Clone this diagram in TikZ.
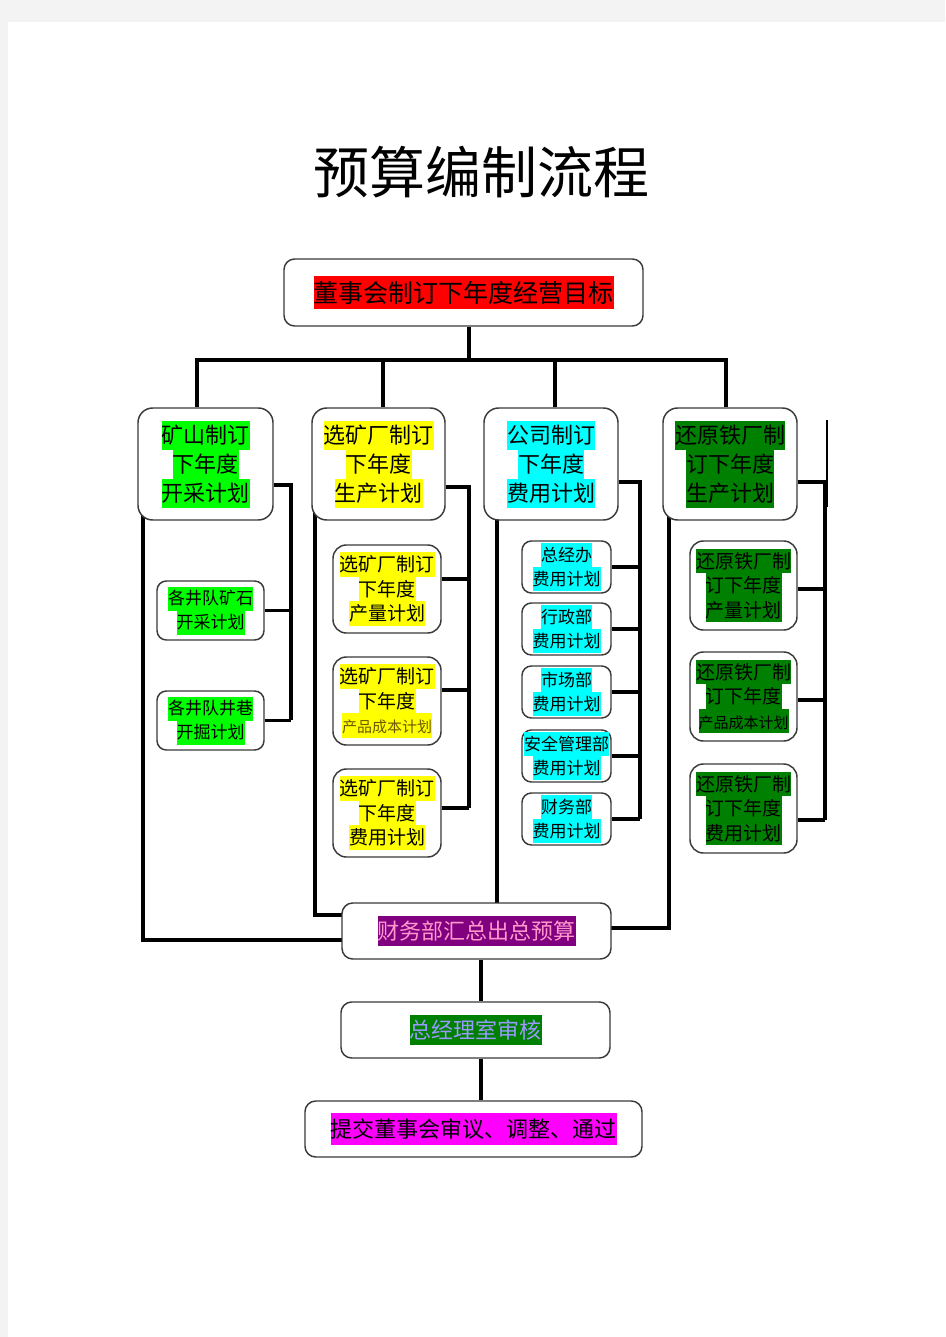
\documentclass[tikz,border=0pt]{standalone}
\usepackage{fontspec}
\setmainfont{Noto Sans CJK SC}
\usetikzlibrary{backgrounds,calc}
\definecolor{pagegray}{HTML}{F3F3F3}
\definecolor{hlred}{HTML}{FF0000}
\definecolor{hlgreen}{HTML}{00FF00}
\definecolor{hlyellow}{HTML}{FFFF00}
\definecolor{hlcyan}{HTML}{00FFFF}
\definecolor{hldkgreen}{HTML}{008000}
\definecolor{hlviolet}{HTML}{800080}
\definecolor{hlpink}{HTML}{FF00FF}
\definecolor{fintext}{HTML}{FF99CC}
\definecolor{gmtext}{HTML}{9999FF}
\definecolor{olivetext}{HTML}{6B5A00}
\definecolor{boxborder}{HTML}{3A3A3A}
\newlength\stP\newlength\stD
\newcommand\fs[2]{\fontsize{#1}{#2}\selectfont\setlength\stP{#2}\setlength\stD{\dimexpr(#2-#1)/2+#1*12/100\relax}}
\newcommand\hl[2]{{\setlength\fboxsep{0pt}\colorbox{#1}{\rule[-\stD]{0pt}{\stP}#2}}}
\tikzset{
  box/.style={draw=boxborder,line width=1.1pt,fill=white,rounded corners=8pt,inner sep=0pt,align=center},
  colbox/.style={box,rounded corners=11pt,minimum width=134*0.75pt,minimum height=112*0.75pt,font={\fs{16.5pt}{21.75pt}}},
  subA/.style={box,rounded corners=7pt,minimum width=107*0.75pt,minimum height=59*0.75pt,font={\fs{12.75pt}{18pt}}},
  subB/.style={box,rounded corners=10pt,minimum width=108*0.75pt,minimum height=88*0.75pt,font={\fs{14.25pt}{18.4pt}}},
  subC/.style={box,rounded corners=7pt,minimum width=89*0.75pt,minimum height=52*0.75pt,font={\fs{12.75pt}{18pt}}},
  flowbox/.style={box,rounded corners=8pt,minimum height=56*0.75pt},
  conn/.style={draw=black,line width=2.6pt}
}
\newcommand\smallline[2]{\hl{#1}{\fontsize{11.25pt}{18pt}\selectfont #2}}
\begin{document}
\begin{tikzpicture}[x=0.75pt,y=-0.75pt]
\useasboundingbox (0,0) rectangle (945,1337);
% title
\node (title) at (481,172) {\fontsize{42pt}{50pt}\selectfont 预算编制流程};
% top
\node[box,minimum width=359*0.75pt,minimum height=67*0.75pt,font={\fs{18.75pt}{25pt}}] (top) at (463.5,292.5) {\hl{hlred}{董事会制订下年度经营目标}};
% column headers
\node[colbox,minimum width=135*0.75pt] (colA) at (205.5,464) {\hl{hlgreen}{矿山制订}\\\hl{hlgreen}{下年度}\\\hl{hlgreen}{开采计划}};
\node[colbox,minimum width=133*0.75pt] (colB) at (378.5,464) {\hl{hlyellow}{选矿厂制订}\\\hl{hlyellow}{下年度}\\\hl{hlyellow}{生产计划}};
\node[colbox] (colC) at (551,464) {\hl{hlcyan}{公司制订}\\\hl{hlcyan}{下年度}\\\hl{hlcyan}{费用计划}};
\node[colbox] (colD) at (730,464) {\hl{hldkgreen}{还原铁厂制}\\\hl{hldkgreen}{订下年度}\\\hl{hldkgreen}{生产计划}};
% column A subs
\node[subA] (subA1) at (210.5,610.5) {\hl{hlgreen}{各井队矿石}\\\hl{hlgreen}{开采计划}};
\node[subA] (subA2) at (210.5,720.5) {\hl{hlgreen}{各井队井巷}\\\hl{hlgreen}{开掘计划}};
% column B subs
\node[subB] (subB1) at (387,589) {\hl{hlyellow}{选矿厂制订}\\\hl{hlyellow}{下年度}\\\hl{hlyellow}{产量计划}};
\node[subB] (subB2) at (387,701) {\hl{hlyellow}{选矿厂制订}\\\hl{hlyellow}{下年度}\\\smallline{hlyellow}{\color{olivetext}产品成本计划}};
\node[subB] (subB3) at (387,813) {\hl{hlyellow}{选矿厂制订}\\\hl{hlyellow}{下年度}\\\hl{hlyellow}{费用计划}};
% column C subs
\node[subC] (subC1) at (566.5,567) {\hl{hlcyan}{总经办}\\\hl{hlcyan}{费用计划}};
\node[subC] (subC2) at (566.5,629) {\hl{hlcyan}{行政部}\\\hl{hlcyan}{费用计划}};
\node[subC] (subC3) at (566.5,692) {\hl{hlcyan}{市场部}\\\hl{hlcyan}{费用计划}};
\node[subC] (subC4) at (566.5,756) {\hl{hlcyan}{安全管理部}\\\hl{hlcyan}{费用计划}};
\node[subC] (subC5) at (566.5,819) {\hl{hlcyan}{财务部}\\\hl{hlcyan}{费用计划}};
% column D subs
\node[subB,minimum width=107*0.75pt,minimum height=89*0.75pt] (subD1) at (743.5,585.5) {\hl{hldkgreen}{还原铁厂制}\\\hl{hldkgreen}{订下年度}\\\hl{hldkgreen}{产量计划}};
\node[subB,minimum width=107*0.75pt,minimum height=89*0.75pt] (subD2) at (743.5,696.5) {\hl{hldkgreen}{还原铁厂制}\\\hl{hldkgreen}{订下年度}\\\smallline{hldkgreen}{产品成本计划}};
\node[subB,minimum width=107*0.75pt,minimum height=89*0.75pt] (subD3) at (743.5,808.5) {\hl{hldkgreen}{还原铁厂制}\\\hl{hldkgreen}{订下年度}\\\hl{hldkgreen}{费用计划}};
% bottom flow
\node[flowbox,minimum width=269*0.75pt,font={\fs{16.5pt}{23pt}},text=fintext] (fin) at (476.5,931) {\hl{hlviolet}{财务部汇总出总预算}};
\node[flowbox,minimum width=269*0.75pt,font={\fs{16.5pt}{23pt}},text=gmtext] (gm) at (475.5,1030) {\hl{hldkgreen}{总经理室审核}};
\node[flowbox,minimum width=337*0.75pt,font={\fs{16.5pt}{24pt}}] (board) at (473.5,1129) {\hl{hlpink}{提交董事会审议、调整、通过}};
% connectors
\begin{pgfonlayer}{background}
\fill[pagegray] (0,0) rectangle (945,1337);
\fill[white] (8,22) rectangle (945,1337);
\coordinate (bus) at (469,360);
\draw[conn] (top.south -| bus) -- (bus);
\draw[conn] (197,0 |- colA.north) |- (bus);
\draw[conn] (383,0 |- colB.north) |- (bus);
\draw[conn] (555,0 |- colC.north) |- (bus);
\draw[conn] (726,0 |- colD.north) |- (bus);
% column A
\coordinate (rA) at (291,720);
\draw[conn] (colA.east |- 0,485) -| (rA);
\draw[conn] (subA1.east) -- (subA1.east -| rA);
\draw[conn] (subA2.east) -- (subA2.east -| rA);
% column B
\coordinate (rB) at (469,808);
\draw[conn] (colB.east |- 0,487) -| (rB);
\draw[conn] (subB1.east |- 0,579) -- (rB |- 0,579);
\draw[conn] (subB2.east |- 0,690) -- (rB |- 0,690);
\draw[conn] (subB3.east |- 0,808) -- (rB);
% column C
\coordinate (rC) at (640,819);
\draw[conn] (colC.east |- 0,482) -| (rC);
\foreach \n in {subC1,subC2,subC3,subC4,subC5}{\draw[conn] (\n.east) -- (\n.east -| rC);}
% column D
\coordinate (rD) at (825,820);
\draw[conn] (colD.east |- 0,482) -| (rD);
\draw[conn] (subD1.east |- 0,589) -- (rD |- 0,589);
\draw[conn] (subD2.east |- 0,700) -- (rD |- 0,700);
\draw[conn] (subD3.east |- 0,820) -- (rD);
\coordinate (tA) at (827,420);
\coordinate (tB) at (827,507);
\draw[line width=0.9pt] (tA) -- (tB);
% to summary box
\draw[conn] ($(143,0 |- colA.south)+(0,-12)$) |- ($(fin.west |- 0,940)+(6,0)$);
\draw[conn] ($(315,0 |- colB.south)+(0,-12)$) |- ($(fin.west |- 0,915)+(6,0)$);
\draw[conn] ($(497,0 |- colC.south)+(0,-12)$) -- ($(497,0 |- fin.north)+(0,6)$);
\draw[conn] ($(669,0 |- colD.south)+(0,-12)$) |- ($(fin.east |- 0,928)+(-6,0)$);
\draw[conn] (481,0 |- fin.south) -- (481,0 |- gm.north);
\draw[conn] (481,0 |- gm.south) -- (481,0 |- board.north);
\end{pgfonlayer}
\end{tikzpicture}
\end{document}
